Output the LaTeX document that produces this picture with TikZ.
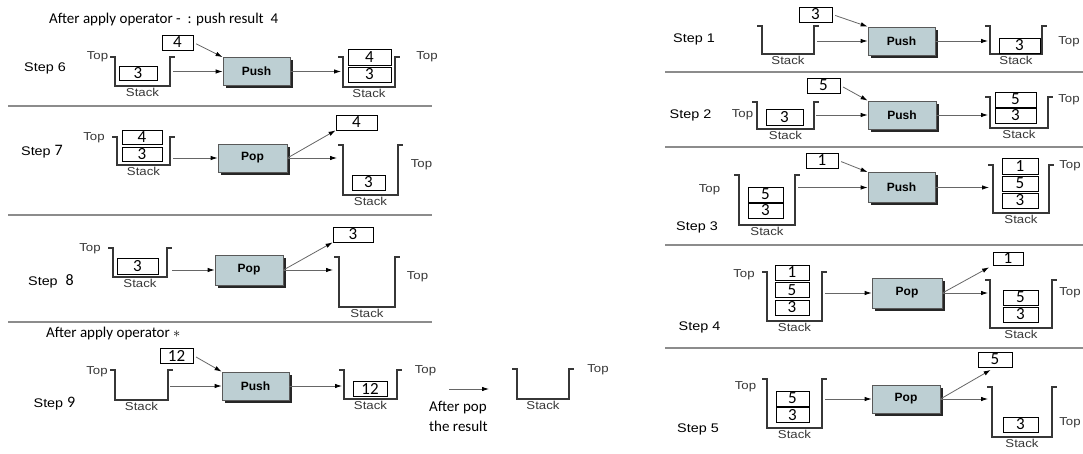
\documentclass[tikz,border=0pt]{standalone}
\usepackage{fontspec}
\setmainfont{Carlito}
\newfontfamily\arial[FakeStretch=1.15]{Liberation Sans}
\newfontfamily\arialop{Liberation Sans}
\usetikzlibrary{arrows.meta,positioning,shadows}
\definecolor{opfill}{RGB}{189,207,211}
\definecolor{wallgray}{RGB}{55,55,55}
\definecolor{rulegray}{RGB}{140,140,140}

% stack bracket: name, centre, width, height
\newcommand{\stk}[4]{%
  \node[stkarea, minimum width=#3pt, minimum height=#4pt] (#1) at (#2) {};
  \draw[wall] ([xshift=-5pt]#1.north west) -- (#1.north west) -- (#1.south west)
    -- (#1.south east) -- (#1.north east) -- ([xshift=5pt]#1.north east);
  \node[lbl, below=1pt of #1] (#1-lbl) {Stack};}

\begin{document}
\begin{tikzpicture}[x=1pt, y=-1pt,
  stkarea/.style={inner sep=0pt, outer sep=0pt},
  wall/.style={draw=wallgray, line width=1.3pt},
  lbl/.style={font=\arial\fontsize{11.5}{12}\selectfont, text=wallgray, inner sep=1pt},
  steplbl/.style={font=\arial\fontsize{12.5}{14}\selectfont, inner sep=1pt},
  head/.style={font=\fontsize{15}{20}\selectfont, inner sep=0pt},
  elem/.style={draw, fill=white, line width=0.8pt, minimum width=36pt, minimum height=15pt,
    inner sep=0pt, font=\fontsize{17}{17}\selectfont},
  op/.style={draw=black!65, fill=opfill, line width=0.8pt, minimum width=67pt, minimum height=28pt,
    font=\arialop\bfseries\fontsize{12}{12}\selectfont,
    drop shadow={shadow xshift=3pt, shadow yshift=-3pt, opacity=1, fill=black!85}},
  conn/.style={draw=black!60, line width=0.8pt, -{Latex[length=7pt, width=4.5pt, color=black]}},
  sep/.style={draw=rulegray, line width=1.5pt}
]
  \useasboundingbox (0,0) rectangle (1083,454);

  % separators
  \draw[sep] (8,106) -- (432,106);
  \draw[sep] (8,215) -- (432,215);
  \draw[sep] (8,322) -- (432,322);
  \draw[sep] (665,72) -- (1083,72);
  \draw[sep] (665,147) -- (1083,147);
  \draw[sep] (665,245) -- (1083,245);
  \draw[sep] (665,348) -- (1083,348);

  % step 6
  \node[head, anchor=west] (t6) at (49,20) {After apply operator -\ \ : push result\ \ 4};
  \node[steplbl] (st6) at (45,68) {Step 6};
  \node[lbl] (top6a) at (97.5,57) {Top};
  \stk{s6a}{142.5,71.5}{55}{29}
  \node[elem, minimum width=38pt, minimum height=14pt] (e6a) at (138,73) {3};
  \node[elem, minimum width=31pt] (in6) at (177.5,42.5) {4};
  \node[op] (op6) at (256.5,71.5) {Push};
  \stk{s6b}{369,72}{52}{30}
  \node[elem, minimum width=43pt, minimum height=16pt] (e6b) at (369.5,57) {4};
  \node[elem, minimum width=43pt] (e6c) at (369.5,74.5) {3};
  \node[lbl] (top6b) at (427,57) {Top};
  \draw[conn, shorten <=3pt] (in6.east) -- (op6.north west);
  \draw[conn, shorten <=3pt] (op6.west -| s6a.east) -- (op6.west);
  \draw[conn, shorten >=2pt] (op6.east) -- (op6.east -| s6b.west);

  % step 7
  \node[steplbl] (st7) at (42,152) {Step {\rmfamily\fontsize{16}{16}\selectfont 7}};
  \node[lbl] (top7a) at (94,138) {Top};
  \stk{s7a}{143.5,151}{53}{28}
  \node[elem, minimum width=40pt, minimum height=14pt] (e7a) at (142,137) {4};
  \node[elem, minimum width=40pt, minimum height=14pt] (e7b) at (142,154) {3};
  \node[op, minimum width=69pt] (op7) at (252.5,158) {Pop};
  \node[elem, minimum width=41pt] (out7) at (356.5,122.5) {4};
  \stk{s7b}{370.5,170}{55}{50}
  \node[elem, minimum width=33pt] (e7c) at (368.5,182.5) {3};
  \node[lbl] (top7b) at (421.5,165) {Top};
  \draw[conn, shorten <=3pt] (op7.west -| s7a.east) -- (op7.west);
  \draw[conn] (op7.east) -- (out7.south west);
  \draw[conn, shorten >=6pt] (op7.east) -- (op7.east -| s7b.west);

  % step 8
  \node[steplbl] (st8) at (51,281) {Step\ \ {\rmfamily\fontsize{16}{16}\selectfont 8}};
  \node[lbl] (top8a) at (90,249) {Top};
  \stk{s8a}{140,262.5}{54}{29}
  \node[elem, minimum width=41pt, minimum height=16pt] (e8a) at (137.5,266) {3};
  \node[op, minimum width=68pt, minimum height=30pt] (op8) at (249,270) {Pop};
  \node[elem, minimum width=40pt] (out8) at (353,234.5) {3};
  \stk{s8b}{367,282}{56}{50}
  \node[lbl] (top8b) at (417.5,277) {Top};
  \draw[conn, shorten <=5pt] (op8.west -| s8a.east) -- (op8.west);
  \draw[conn] (op8.east) -- (out8.south west);
  \draw[conn, shorten >=6pt] (op8.east) -- (op8.east -| s8b.west);

  % step 9
  \node[head, anchor=west] (t9) at (46,333) {After apply operator $\ast$};
  \node[steplbl] (st9) at (54.5,404) {Step {\rmfamily\fontsize{16}{16}\selectfont 9}};
  \node[lbl] (top9a) at (97,372) {Top};
  \stk{s9a}{141.5,385}{53}{30}
  \node[elem, minimum width=33pt] (in9) at (176.5,355.5) {12};
  \node[op] (op9) at (255.5,386) {Push};
  \stk{s9b}{370.5,384.5}{53}{29}
  \node[elem, minimum width=34pt] (e9a) at (370,388.5) {12};
  \node[lbl] (top9b) at (425.5,371) {Top};
  \draw[conn, shorten <=3pt] (in9.east) -- (op9.north west);
  \draw[conn, shorten <=2pt] (op9.west -| s9a.east) -- (op9.west);
  \draw[conn, shorten >=2pt] (op9.east) -- (op9.east -| s9b.west);
  \coordinate (a9s) at (449,389);
  \coordinate (a9e) at (489,389);
  \draw[conn] (a9s) -- (a9e);
  \node[head, anchor=west, align=left] (txt9) at (429,416) {After pop\\the result};
  \stk{s9c}{543,384}{52}{30}
  \node[lbl] (top9c) at (598,370) {Top};

  % step 1
  \node[steplbl] (st1) at (694,39) {Step 1};
  \stk{s1a}{788,40}{52}{28}
  \node[elem, minimum width=33pt] (in1) at (815.5,14.5) {3};
  \node[op] (op1) at (901.5,41) {Push};
  \stk{s1b}{1016,40}{52}{28}
  \node[elem, minimum width=41pt] (e1a) at (1019.5,45.5) {3};
  \node[lbl] (top1b) at (1069,42) {Top};
  \draw[conn, shorten <=3pt] (in1.east) -- (op1.north west);
  \draw[conn, shorten <=3pt] (op1.west -| s1a.east) -- (op1.west);
  \draw[conn, shorten >=2pt] (op1.east) -- (op1.east -| s1b.west);

  % step 2
  \node[steplbl] (st2) at (690.5,115) {Step 2};
  \node[lbl] (top2a) at (742.5,115) {Top};
  \stk{s2a}{785.5,115.5}{57}{27}
  \node[elem, minimum width=37pt, minimum height=16pt] (e2a) at (784.5,117) {3};
  \node[elem, minimum width=33pt] (in2) at (823.5,85.5) {5};
  \node[op, minimum width=68pt] (op2) at (902,115) {Push};
  \stk{s2b}{1019,112.5}{58}{31}
  \node[elem, minimum width=41pt] (e2b) at (1015.5,99.5) {5};
  \node[elem, minimum width=41pt] (e2c) at (1015.5,115.5) {3};
  \node[lbl] (top2b) at (1069,100) {Top};
  \draw[conn, shorten <=3pt] (in2.east) -- (op2.north west);
  \draw[conn, shorten <=2pt] (op2.west -| s2a.east) -- (op2.west);
  \draw[conn, shorten >=2pt] (op2.east) -- (op2.east -| s2b.west);

  % step 3
  \node[steplbl] (st3) at (697,227) {Step 3};
  \node[lbl] (top3a) at (709.5,190) {Top};
  \stk{s3a}{767,200}{56}{50}
  \node[elem, minimum width=35pt] (e3a) at (765.5,194.5) {5};
  \node[elem, minimum width=35pt] (e3b) at (765.5,210.5) {3};
  \node[elem, minimum width=32pt] (in3) at (822,160.5) {1};
  \node[op, minimum height=30pt] (op3) at (901.5,187.5) {Push};
  \stk{s3b}{1021,189}{56}{48}
  \node[elem, minimum width=36pt, minimum height=16pt] (e3c) at (1020,166) {1};
  \node[elem, minimum width=36pt] (e3d) at (1020,183.5) {5};
  \node[elem, minimum width=36pt] (e3e) at (1020,200.5) {3};
  \node[lbl] (top3b) at (1070,166) {Top};
  \draw[conn, shorten <=3pt] (in3.east) -- (op3.north west);
  \draw[conn, shorten <=3pt] (op3.west -| s3a.east) -- (op3.west);
  \draw[conn, shorten >=4pt] (op3.east) -- (op3.east -| s3b.west);

  % step 4
  \node[steplbl] (st4) at (699.5,327) {Step 4};
  \node[lbl] (top4a) at (744,275) {Top};
  \stk{s4a}{794.5,296.5}{55}{49}
  \node[elem, minimum width=34pt] (e4a) at (792,272.5) {1};
  \node[elem, minimum width=34pt] (e4b) at (792,290) {5};
  \node[elem, minimum width=34pt] (e4c) at (792,307.5) {3};
  \node[op, minimum width=70pt, minimum height=30pt] (op4) at (907,293) {Pop};
  \node[elem, minimum width=30pt, minimum height=13pt] (out4) at (1008,258.5) {1};
  \stk{s4b}{1021,304}{62}{48}
  \node[elem, minimum width=35pt] (e4d) at (1020.5,297.5) {5};
  \node[elem, minimum width=35pt] (e4e) at (1020.5,314.5) {3};
  \node[lbl] (top4b) at (1070,293) {Top};
  \draw[conn, shorten <=3pt] (op4.west -| s4a.east) -- (op4.west);
  \draw[conn, shorten >=4pt] (op4.east) -- (out4.south west);
  \draw[conn, shorten >=2pt] (op4.east) -- (op4.east -| s4b.west);

  % step 5
  \node[steplbl] (st5) at (698,429) {Step 5};
  \node[lbl] (top5a) at (745.5,387) {Top};
  \stk{s5a}{794.5,403.5}{55}{49}
  \node[elem, minimum width=33pt] (e5a) at (792.5,398.5) {5};
  \node[elem, minimum width=33pt] (e5b) at (792.5,415) {3};
  \node[op, minimum width=68pt] (op5) at (906,399) {Pop};
  \node[elem, minimum width=34pt] (out5) at (995,359.5) {5};
  \stk{s5b}{1022,412}{60}{50}
  \node[elem, minimum width=35pt] (e5c) at (1020.5,424.5) {3};
  \node[lbl] (top5b) at (1070,423) {Top};
  \draw[conn, shorten <=3pt] (op5.west -| s5a.east) -- (op5.west);
  \draw[conn, shorten >=5pt] (op5.east) -- (out5.south);
  \draw[conn, shorten >=4pt] (op5.east) -- (op5.east -| s5b.west);
\end{tikzpicture}
\end{document}
